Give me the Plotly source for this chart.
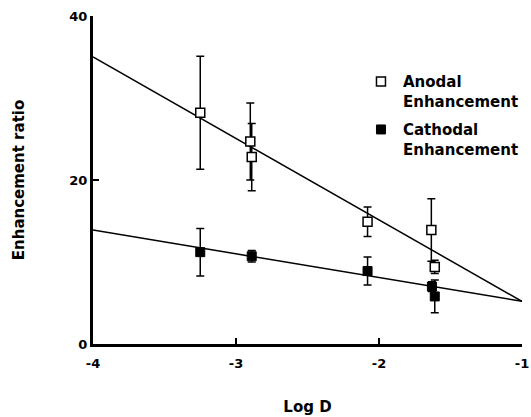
import plotly.graph_objects as go

# Anodal enhancement data
anodal_x = [-3.25, -2.90, -2.89, -2.08, -1.634, -1.61]
anodal_y = [28.2, 24.7, 22.8, 14.9, 13.9, 9.4]
anodal_err = [6.9, 4.7, 4.1, 1.8, 3.8, 0.8]

# Cathodal enhancement data
cathodal_x = [-3.25, -2.89, -2.08, -1.63, -1.61]
cathodal_y = [11.2, 10.7, 8.9, 7.0, 5.8]
cathodal_err = [2.9, 0.7, 1.7, 0.6, 2.0]

# Regression line endpoints
fit_x = [-4, -1]
anodal_fit = [35.0, 5.2]
cathodal_fit = [13.9, 5.2]

x_ticks = [-4, -3, -2, -1]
y_ticks = [0, 20, 40]

FONT = "DejaVu Sans"

fig = go.Figure()

fig.add_trace(go.Scatter(x=fit_x, y=anodal_fit, mode="lines",
                         line=dict(color="black", width=1.5), showlegend=False, hoverinfo="skip"))
fig.add_trace(go.Scatter(x=fit_x, y=cathodal_fit, mode="lines",
                         line=dict(color="black", width=1.5), showlegend=False, hoverinfo="skip"))

fig.add_trace(go.Scatter(
    x=anodal_x, y=anodal_y, mode="markers", name="Anodal<br>Enhancement", legendgroup="a",
    marker=dict(symbol="square", size=9, color="white", line=dict(color="black", width=1.5)),
    error_y=dict(type="data", array=anodal_err, visible=True, color="black", thickness=1.5, width=4),
))
fig.add_trace(go.Scatter(
    x=cathodal_x, y=cathodal_y, mode="markers", name="Cathodal<br>Enhancement", legendgroup="c",
    marker=dict(symbol="square", size=9, color="black", line=dict(color="black", width=1)),
    error_y=dict(type="data", array=cathodal_err, visible=True, color="black", thickness=1.5, width=4),
))

fig.update_layout(
    width=531, height=417,
    margin=dict(l=93, r=7, t=16, b=73),
    paper_bgcolor="white", plot_bgcolor="white",
    font=dict(family=FONT, color="black"),
    showlegend=True,
    legend=dict(
        x=0.62, y=0.85, xanchor="left", yanchor="top",
        bgcolor="rgba(0,0,0,0)", borderwidth=0,
        font=dict(family=FONT, size=15, weight="bold", color="black"),
        valign="top", tracegroupgap=6, itemwidth=34,
    ),
    xaxis=dict(
        range=[-4, -1], tickvals=x_ticks, ticktext=[str(v) for v in x_ticks],
        showgrid=False, zeroline=False, showline=True, linecolor="black", linewidth=3,
        ticks="inside", ticklen=6, tickwidth=2, tickcolor="black",
        tickfont=dict(family=FONT, size=13, weight="bold"),
        ticklabeloverflow="allow", ticklabelstandoff=5,
        title=dict(text="Log D", font=dict(family=FONT, size=15, weight="bold"), standoff=32),
        automargin=False,
    ),
    yaxis=dict(
        range=[0, 40], tickvals=y_ticks, ticktext=[str(v) for v in y_ticks],
        showgrid=False, zeroline=False, showline=True, linecolor="black", linewidth=3,
        ticks="inside", ticklen=6, tickwidth=2, tickcolor="black",
        tickfont=dict(family=FONT, size=13, weight="bold"),
        title=dict(text="Enhancement ratio", font=dict(family=FONT, size=15, weight="bold"), standoff=42),
        automargin=False,
    ),
)

fig.write_html("out.html")
